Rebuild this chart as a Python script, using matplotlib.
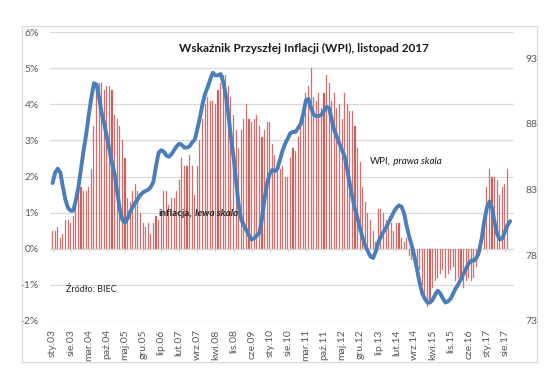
import numpy as np
import matplotlib.pyplot as plt
from matplotlib.patches import Rectangle

# === Data: monthly, Jan 2003 onwards ===
inflation = [
    0.5, 0.5, 0.6, 0.3, 0.4, 0.8, 0.8, 0.7, 0.9, 1.3, 1.6, 1.7,   # 2003
    1.6, 1.6, 1.7, 2.2, 3.4, 4.4, 4.6, 4.6, 4.4, 4.5, 4.5, 4.4,   # 2004
    3.7, 3.6, 3.4, 3.0, 2.5, 1.4, 1.3, 1.6, 1.8, 1.6, 1.0, 0.7,   # 2005
    0.6, 0.7, 0.4, 0.7, 0.9, 0.8, 1.1, 1.6, 1.6, 1.2, 1.4, 1.4,   # 2006
    1.6, 1.9, 2.5, 2.3, 2.3, 2.6, 2.3, 1.5, 2.3, 3.0, 3.6, 4.0,   # 2007
    4.2, 4.1, 4.1, 4.0, 4.4, 4.6, 4.8, 4.8, 4.5, 4.2, 3.7, 3.3,   # 2008
    2.8, 3.3, 3.6, 4.0, 3.6, 3.5, 3.6, 3.7, 3.4, 3.1, 3.3, 3.5,   # 2009
    3.5, 2.9, 2.6, 2.4, 2.2, 2.3, 2.0, 2.0, 2.5, 2.8, 2.7, 3.1,   # 2010
    3.6, 3.6, 4.3, 4.5, 5.0, 4.2, 4.1, 4.3, 3.9, 4.3, 4.8, 4.6,   # 2011
    4.1, 4.3, 3.9, 4.0, 3.6, 4.3, 4.0, 3.8, 3.8, 3.4, 2.8, 2.4,   # 2012
    1.7, 1.3, 1.0, 0.8, 0.5, 0.2, 1.1, 1.1, 1.0, 0.8, 0.6, 0.7,   # 2013
    0.5, 0.7, 0.7, 0.3, 0.2, 0.3, -0.2, -0.3, -0.3, -0.6, -0.6, -1.0,  # 2014
    -1.4, -1.6, -1.5, -1.1, -0.9, -0.8, -0.7, -0.6, -0.8, -0.7, -0.6, -0.5,  # 2015
    -0.9, -0.8, -0.9, -1.1, -0.9, -0.8, -0.9, -0.8, -0.5, -0.2, 0.0, 0.8,  # 2016
    1.7, 2.2, 2.0, 2.0, 1.9, 1.5, 1.7, 1.8, 2.2,                  # 2017
]

wpi = [
    83.5, 84.3, 84.6, 84.3, 83.2, 82.2, 81.6, 81.4, 81.4, 82.2, 83.2, 84.6,
    86.0, 87.2, 88.7, 90.0, 91.1, 91.0, 90.0, 88.8, 88.0, 87.0, 86.0, 85.0,
    84.2, 82.8, 81.5, 80.7, 80.5, 80.8, 81.3, 81.7, 82.0, 82.3, 82.6, 82.8,
    82.9, 83.0, 83.2, 83.6, 84.8, 85.8, 86.0, 85.9, 85.6, 85.5, 85.7, 86.0,
    86.3, 86.5, 86.4, 86.2, 86.2, 86.3, 86.6, 86.8, 87.6, 88.5, 89.5, 90.3,
    90.8, 91.4, 91.9, 91.7, 91.7, 91.8, 91.2, 90.2, 88.7, 87.0, 85.5, 83.6,
    81.8, 80.7, 80.3, 79.9, 79.5, 79.2, 79.3, 79.5, 79.7, 80.8, 82.3, 83.5,
    84.2, 84.5, 84.4, 84.6, 85.3, 86.0, 86.5, 86.9, 87.3, 87.4, 87.4, 87.7,
    88.0, 88.8, 89.8, 89.9, 89.2, 88.7, 88.6, 88.6, 88.7, 89.0, 89.3, 89.2,
    88.3, 87.5, 87.0, 86.5, 86.0, 85.5, 84.5, 83.4, 82.4, 81.5, 80.8, 80.0,
    79.3, 78.7, 78.3, 77.9, 77.8, 78.3, 79.0, 79.4, 79.8, 80.1, 80.5, 80.9,
    81.3, 81.6, 81.8, 81.7, 81.2, 80.2, 79.4, 78.7, 77.9, 76.9, 75.9, 75.1,
    74.7, 74.4, 74.4, 74.6, 75.0, 75.3, 75.1, 74.7, 74.4, 74.5, 74.7, 75.1,
    75.5, 75.8, 76.2, 76.6, 77.0, 77.4, 77.6, 77.6, 77.8, 78.3, 79.3, 80.6,
    81.6, 82.1, 81.6, 80.5, 79.6, 79.2, 79.3, 79.8, 80.3, 80.6,
]

month_names = ["sty", "lut", "mar", "kwi", "maj", "cze",
               "lip", "sie", "wrz", "paź", "lis", "gru"]
n_months = 179  # sty.03 .. lis.17
labels = [f"{month_names[i % 12]}.{(3 + i // 12):02d}" for i in range(n_months)]
tick_idx = list(range(0, n_months, 7))

GRID = "#d9d9d9"
TXT = "#595959"

plt.rcParams['font.family'] = ['Lato', 'DejaVu Sans']

fig = plt.figure(figsize=(5.6, 3.9), dpi=100)
fig.patches.append(Rectangle((22 / 560, 1 - 362 / 390), 515 / 560, 336 / 390,
                             transform=fig.transFigure, fill=False,
                             edgecolor=GRID, lw=0.9))
ax = fig.add_axes([50 / 560, 1 - 321 / 390, 464 / 560, 289 / 390])

# === Bars (left axis) ===
x_bar = np.arange(len(inflation))
ax.bar(x_bar, inflation, width=0.42, color="#c0504d", edgecolor="#e3a3a1",
       linewidth=0.3, zorder=2)
ax.set_ylim(-2, 6)
ax.set_yticks(range(-2, 7))
ax.set_yticklabels([f"{v}%" for v in range(-2, 7)])
ax.set_xlim(-1, n_months - 0.5)
ax.grid(axis='y', color=GRID, lw=0.9, zorder=0)
ax.axhline(0, color=GRID, lw=0.9, zorder=1)
ax.vlines(tick_idx, -0.1, 0, color=GRID, lw=0.9, zorder=1)
ax.set_xticks(tick_idx)
ax.set_xticklabels([labels[i] for i in tick_idx], rotation=90, fontsize=7.5, color=TXT)
ax.tick_params(axis='x', length=0, pad=6)
ax.tick_params(axis='y', length=0, labelsize=7.5, labelcolor=TXT, pad=8)
for s in ax.spines.values():
    s.set_visible(False)

# === WPI line (right axis) ===
ax2 = ax.twinx()
ax2.plot(np.arange(len(wpi)), wpi, color="#4a7ebb", lw=2.8, solid_capstyle='round', zorder=3)
ax2.set_ylim(73, 95)
ax2.set_yticks([73, 78, 83, 88, 93])
ax2.tick_params(axis='y', length=0, labelsize=7.5, labelcolor=TXT, pad=8)
for s in ax2.spines.values():
    s.set_visible(False)

# === Texts ===
fig.text(304 / 560, 1 - 48 / 390, "Wskaźnik Przyszłej Inflacji (WPI), listopad 2017",
         ha='center', va='center', fontsize=8.5, fontweight='bold', color="#1a1a1a")
t1 = fig.text(370 / 560, 1 - 164 / 390, "WPI,", ha='left', va='baseline', fontsize=7,
              color="#1a1a1a")
t2 = fig.text(159 / 560, 1 - 216 / 390, "inflacja,", ha='left', va='baseline', fontsize=7,
              fontweight='bold', color="#262626")
fig.text(66 / 560, 1 - 289 / 390, "Źródło: BIEC", ha='left', va='center', fontsize=6.5,
         color="#262626")

# italic parts go right after the plain parts
fig.canvas.draw()
r = fig.canvas.get_renderer()
for t, s, w in [(t1, " prawa skala", 'normal'), (t2, " lewa skala", 'bold')]:
    bb = t.get_window_extent(r).transformed(fig.transFigure.inverted())
    fig.text(bb.x1, t.get_position()[1], s, ha='left', va='baseline', fontsize=7,
             fontweight=w, style='italic', color=t.get_color())

fig.savefig("out.png", dpi=100)
